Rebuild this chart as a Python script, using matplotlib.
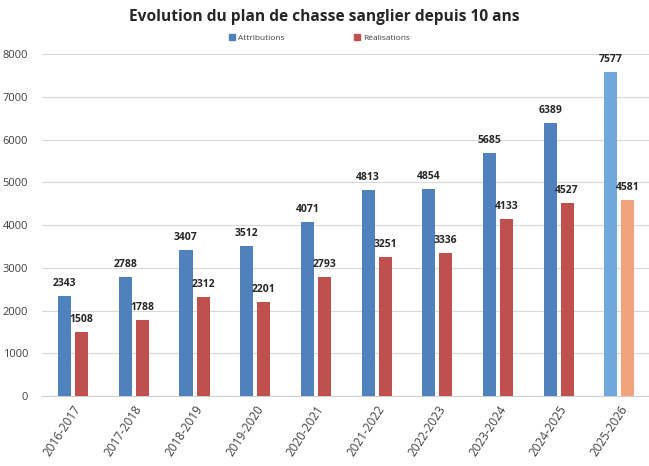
import matplotlib.pyplot as plt
import numpy as np
from matplotlib.patches import Patch

seasons = ["2016-2017", "2017-2018", "2018-2019", "2019-2020", "2020-2021",
           "2021-2022", "2022-2023", "2023-2024", "2024-2025", "2025-2026"]
attributions = [2343, 2788, 3407, 3512, 4071, 4813, 4854, 5685, 6389, 7577]
realisations = [1508, 1788, 2312, 2201, 2793, 3251, 3336, 4133, 4527, 4581]

plt.rcParams['font.family'] = ['Open Sans', 'DejaVu Sans']

blue = "#4F81BD"
red = "#C0504D"
light_blue = "#6FA8DC"
light_red = "#F2A37E"

x = np.arange(len(seasons))
w = 0.215
gap = 0.066

fig = plt.figure(figsize=(6.49, 4.66), dpi=100)
ax = fig.add_axes([0.065, 0.150, 0.937, 0.734])

blue_cols = [blue] * (len(seasons) - 1) + [light_blue]
red_cols = [red] * (len(seasons) - 1) + [light_red]

ax.bar(x - (w + gap) / 2, attributions, w, color=blue_cols, zorder=3)
ax.bar(x + (w + gap) / 2, realisations, w, color=red_cols, zorder=3)

for i in range(len(seasons)):
    ax.annotate(f"{attributions[i]}", xy=(x[i] - (w + gap) / 2, attributions[i]),
                xytext=(0, 7.2), textcoords='offset points', ha='center',
                va='baseline', fontsize=7.5, fontweight='bold', color="#262626")
    ax.annotate(f"{realisations[i]}", xy=(x[i] + (w + gap) / 2, realisations[i]),
                xytext=(0, 7.2), textcoords='offset points', ha='center',
                va='baseline', fontsize=7.5, fontweight='bold', color="#262626")

ax.set_xlim(-0.51, len(seasons) - 0.49)
ax.set_ylim(0, 8000)
ax.set_yticks(np.arange(0, 8001, 1000))
ax.set_xticks(x)
ax.set_xticklabels(seasons, rotation=57, ha='right', rotation_mode='anchor')
ax.tick_params(axis='y', length=0, labelsize=8, colors="#404040", pad=10)
ax.tick_params(axis='x', length=0, labelsize=8.5, colors="#404040", pad=5)
ax.grid(axis='y', color="#D9D9D9", linewidth=0.8, zorder=0)
for s in ['top', 'right', 'left']:
    ax.spines[s].set_visible(False)
ax.spines['bottom'].set_color("#D0D0D0")

fig.suptitle("Evolution du plan de chasse sanglier depuis 10 ans",
             fontsize=11.2, fontweight='bold', color="#262626", y=0.98)

handles = [Patch(color=blue, label="Attributions"),
           Patch(color=red, label="Réalisations")]
fig.legend(handles=handles, loc='upper center', bbox_to_anchor=(0.492, 0.943),
           ncol=2, frameon=False, fontsize=6, handlelength=0.7,
           handleheight=0.7, columnspacing=8.3, handletextpad=0.4,
           labelcolor="#404040")

plt.savefig("out.png")
